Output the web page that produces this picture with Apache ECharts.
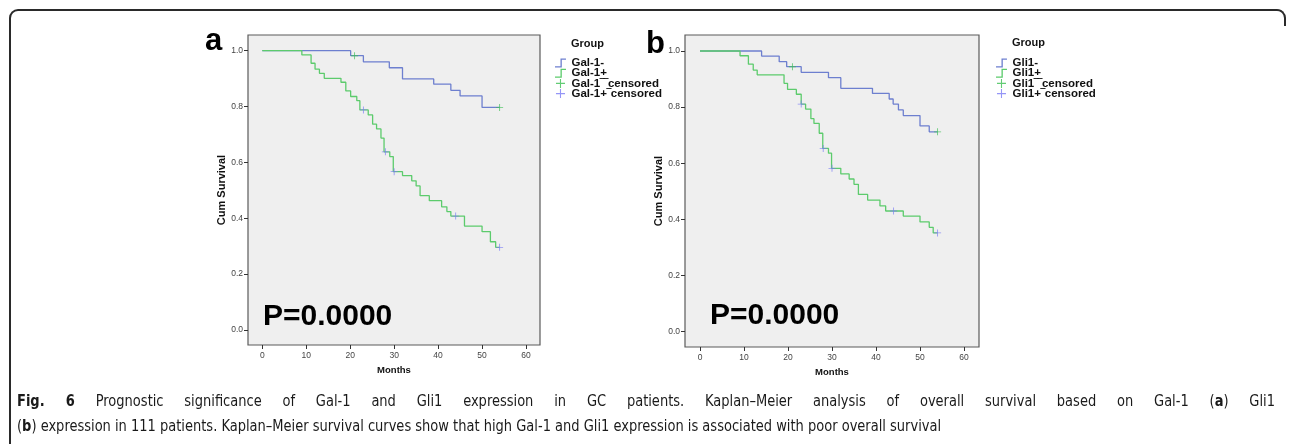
<!DOCTYPE html>
<html>
<head>
<meta charset="utf-8">
<script src="https://cdn.jsdelivr.net/npm/echarts@6/dist/echarts.min.js"></script>
<style>
html,body{margin:0;padding:0;background:#fff;}
#wrap{position:relative;width:1292px;height:444px;overflow:hidden;}
#chart{position:absolute;left:0;top:0;width:1292px;height:444px;}
#frame{position:absolute;left:9px;top:9px;width:1273px;height:500px;border-top:2px solid #2a2a2a;border-left:2px solid #2a2a2a;border-right:2px solid #2a2a2a;border-radius:9px;pointer-events:none;}
#cover{position:absolute;left:1276px;top:26px;width:16px;height:420px;background:#fff;}
.cap{position:absolute;left:17px;font-family:"Liberation Sans Narrow","DejaVu Sans Condensed","Liberation Sans",sans-serif;font-size:16px;line-height:25px;color:#1a1a1a;transform:scaleX(0.905);transform-origin:0 0;white-space:nowrap;}
#l1{top:388px;width:1390px;text-align:justify;text-align-last:justify;white-space:normal;}
#l2{top:413px;}
</style>
</head>
<body>
<div id="wrap">
<div id="chart"></div>
<div id="frame"></div>
<div id="cover"></div>
<div class="cap" id="l1"><b>Fig. 6</b> Prognostic significance of Gal-1 and Gli1 expression in GC patients. Kaplan–Meier analysis of overall survival based on Gal-1 (<b>a</b>) Gli1</div>
<div class="cap" id="l2">(<b>b</b>) expression in 111 patients. Kaplan–Meier survival curves show that high Gal-1 and Gli1 expression is associated with poor overall survival</div>
</div>
<script>
// ---------- data (months, cumulative survival) ----------
const xTicks = [0, 10, 20, 30, 40, 50, 60];
const yTicks = [0.0, 0.2, 0.4, 0.6, 0.8, 1.0];

// Panel a: Gal-1
const galNegT = [0, 20.1, 23.0, 28.9, 31.9, 39.0, 42.9, 45.0, 50.0, 54];
const galNegS = [1.0, 0.982, 0.960, 0.939, 0.899, 0.880, 0.858, 0.838, 0.797, 0.797];
const galPosT = [0, 9.0, 11.1, 12.0, 13.0, 14.1, 17.9, 19.0, 20.1, 21.5, 22.2, 24.1, 25.1, 26.0, 27.0, 27.7, 29.0, 29.8, 31.9, 34.0, 35.0, 35.9, 38.0, 40.8, 42.0, 42.9, 46.0, 50.0, 51.9, 53.1, 54];
const galPosS = [1.0, 0.985, 0.955, 0.934, 0.919, 0.901, 0.887, 0.856, 0.836, 0.821, 0.788, 0.770, 0.737, 0.720, 0.687, 0.638, 0.621, 0.567, 0.553, 0.534, 0.516, 0.481, 0.463, 0.441, 0.424, 0.408, 0.372, 0.352, 0.316, 0.296, 0.296];
const galNegCensT = [21, 54];
const galNegCensS = [0.982, 0.797];
const galPosCensT = [23, 28, 30, 44, 54];
const galPosCensS = [0.788, 0.638, 0.567, 0.408, 0.296];

// Panel b: Gli1
const gliNegT = [0, 14.0, 18.0, 19.7, 23.0, 29.2, 32.0, 39.2, 43.0, 43.9, 45.1, 46.2, 50.0, 52.1, 54];
const gliNegS = [1.0, 0.982, 0.962, 0.944, 0.924, 0.905, 0.867, 0.849, 0.829, 0.811, 0.790, 0.770, 0.733, 0.712, 0.712];
const gliPosT = [0, 9.1, 11.0, 12.1, 13.0, 19.1, 19.9, 21.9, 23.0, 24.0, 25.2, 25.9, 27.1, 27.9, 29.2, 29.9, 32.0, 33.9, 35.0, 36.0, 38.1, 40.9, 42.2, 46.2, 50.0, 52.1, 53.0, 54];
const gliPosS = [1.0, 0.983, 0.953, 0.932, 0.915, 0.885, 0.863, 0.846, 0.811, 0.793, 0.759, 0.742, 0.707, 0.653, 0.636, 0.582, 0.562, 0.544, 0.525, 0.489, 0.469, 0.448, 0.430, 0.412, 0.391, 0.372, 0.352, 0.352];
const gliNegCensT = [21, 54];
const gliNegCensS = [0.944, 0.712];
const gliPosCensT = [23, 28, 30, 44, 54];
const gliPosCensS = [0.811, 0.653, 0.582, 0.430, 0.352];

const namesA = ['Gal-1-', 'Gal-1+', 'Gal-1\u203E\u203Ecensored', 'Gal-1+\u203Ecensored'];
const namesB = ['Gli1-', 'Gli1+', 'Gli1\u203E\u203Ecensored', 'Gli1+\u203Ecensored'];
const panelLetters = ['a', 'b'];
const pText = 'P=0.0000';

// ---------- styling ----------
const BLUE = '#6d7fcf';
const GREEN = '#5ccb6c';
const BLUE_C = '#7a7cf5';
const GREEN_C = '#3cbf52';
const FONT = 'Liberation Sans';
const stepIcon = 'path://M0,8H5V1H10V2.2H6.2V9.2H0Z';
const plusIcon = 'path://M4.4,0H5.6V4.4H10V5.6H5.6V10H4.4V5.6H0V4.4H4.4Z';

const zip = (t, s) => t.map((v, i) => [v, s[i]]);

const chart = echarts.init(document.getElementById('chart'), null, {renderer: 'canvas'});

function grid(l, t, w, h) {
  return {left: l, top: t, width: w, height: h, show: true, backgroundColor: '#efefef', borderColor: '#5a5a5a', borderWidth: 1.2, containLabel: false};
}
function xAx(gi, mn, mx) {
  return {
    type: 'value', gridIndex: gi, min: mn, max: mx,
    name: 'Months', nameLocation: 'middle', nameGap: 18,
    nameTextStyle: {fontFamily: FONT, fontWeight: 'bold', fontSize: 9.5, color: '#111'},
    axisLine: {show: false, onZero: false}, splitLine: {show: false},
    axisTick: {show: true, length: 4, customValues: xTicks, lineStyle: {color: '#333', width: 1}},
    axisLabel: {fontFamily: FONT, fontSize: 8.5, color: '#444', margin: 6, customValues: xTicks}
  };
}
function yAx(gi, mn, mx) {
  return {
    type: 'value', gridIndex: gi, min: mn, max: mx,
    name: 'Cum Survival', nameLocation: 'middle', nameGap: 20,
    nameTextStyle: {fontFamily: FONT, fontWeight: 'bold', fontSize: 11, color: '#111'},
    axisLine: {show: false, onZero: false}, splitLine: {show: false},
    axisTick: {show: true, length: 4, customValues: yTicks, lineStyle: {color: '#333', width: 1}},
    axisLabel: {fontFamily: FONT, fontSize: 8.5, color: '#444', margin: 5, customValues: yTicks, formatter: v => v.toFixed(1)}
  };
}
function curve(name, gi, data, color) {
  return {type: 'line', name, xAxisIndex: gi, yAxisIndex: gi, data, step: 'end', showSymbol: false, symbol: 'none',
    lineStyle: {color, width: 1.3}, itemStyle: {color}, z: 3, silent: true};
}
function cens(name, gi, data, color) {
  return {type: 'scatter', name, xAxisIndex: gi, yAxisIndex: gi, data, symbol: plusIcon, symbolSize: 7,
    itemStyle: {color}, z: 4, silent: true};
}
function legend(names, left) {
  const cols = [BLUE, GREEN, GREEN_C, BLUE_C];
  return {
    orient: 'vertical', left, top: 57, padding: 0, itemWidth: 12, itemHeight: 9, itemGap: -1.8, selectedMode: false,
    textStyle: {fontFamily: FONT, fontWeight: 'bold', fontSize: 11.5, color: '#111', lineHeight: 10},
    data: names.map((n, i) => ({name: n, icon: i < 2 ? stepIcon : plusIcon, itemStyle: {color: cols[i]}, lineStyle: {opacity: 0, width: 0}}))
  };
}

const option = {
  animation: false,
  backgroundColor: '#fff',
  grid: [
    grid(248, 35, 292, 310),
    grid(685, 35, 294, 312)
  ],
  xAxis: [xAx(0, -3.254, 63.185), xAx(1, -3.409, 63.409)],
  yAxis: [yAx(0, -0.0537, 1.0562), yAx(1, -0.0545, 1.057)],
  title: [
    {text: 'Group', left: 571, top: 38, padding: 0, textStyle: {fontFamily: FONT, fontWeight: 'bold', fontSize: 11, color: '#111'}},
    {text: 'Group', left: 1012, top: 37, padding: 0, textStyle: {fontFamily: FONT, fontWeight: 'bold', fontSize: 11, color: '#111'}}
  ],
  legend: [legend(namesA, 555), legend(namesB, 996)],
  series: [
    curve(namesA[0], 0, zip(galNegT, galNegS), BLUE),
    curve(namesA[1], 0, zip(galPosT, galPosS), GREEN),
    cens(namesA[2], 0, zip(galNegCensT, galNegCensS), GREEN_C),
    cens(namesA[3], 0, zip(galPosCensT, galPosCensS), BLUE_C),
    curve(namesB[0], 1, zip(gliNegT, gliNegS), BLUE),
    curve(namesB[1], 1, zip(gliPosT, gliPosS), GREEN),
    cens(namesB[2], 1, zip(gliNegCensT, gliNegCensS), GREEN_C),
    cens(namesB[3], 1, zip(gliPosCensT, gliPosCensS), BLUE_C)
  ],
  graphic: [
    {type: 'text', left: 205, top: 26, style: {text: panelLetters[0], font: 'bold 31px "Liberation Sans"', fill: '#000'}},
    {type: 'text', left: 646, top: 29, style: {text: panelLetters[1], font: 'bold 31px "Liberation Sans"', fill: '#000'}},
    {type: 'text', left: 263, top: 302, style: {text: pText, font: 'bold 30px "Liberation Sans"', fill: '#000'}},
    {type: 'text', left: 710, top: 301, style: {text: pText, font: 'bold 30px "Liberation Sans"', fill: '#000'}}
  ]
};
chart.setOption(option);
</script>
</body>
</html>
